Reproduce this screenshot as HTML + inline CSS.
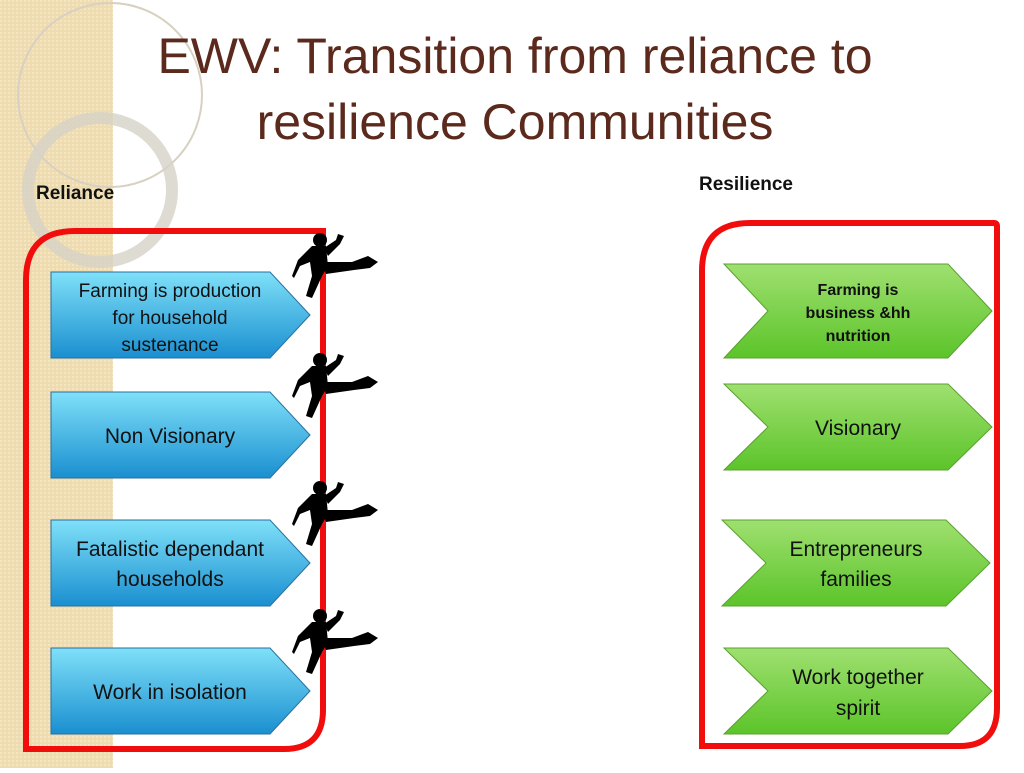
<!DOCTYPE html>
<html><head><meta charset="utf-8"><style>
body{margin:0;width:1024px;height:768px;overflow:hidden;background:#fff;font-family:"Liberation Sans",sans-serif}
</style></head><body>
<svg width="1024" height="768" viewBox="0 0 1024 768" xmlns="http://www.w3.org/2000/svg">
<defs>
<linearGradient id="bl" x1="0" y1="0" x2="0" y2="1"><stop offset="0" stop-color="#7fe0f8"/><stop offset="1" stop-color="#1a8fd0"/></linearGradient>
<linearGradient id="gr" x1="0" y1="0" x2="0" y2="1"><stop offset="0" stop-color="#9fe070"/><stop offset="1" stop-color="#5cc42a"/></linearGradient>
<pattern id="pt" width="4" height="4" patternUnits="userSpaceOnUse"><rect width="4" height="4" fill="#eedcb0"/><rect width="2" height="2" fill="#f3e6c4"/></pattern>
<g id="man" fill="#000">
<circle cx="28" cy="8" r="7"/>
<path d="M20 14 L34 14 L36 34 L30 44 L20 66 L14 64 L20 44 L18 30 L8 34 L2 46 L0 44 L6 28 Z"/>
<path d="M32 16 L44 8 L46 2 L52 4 L48 12 L36 24 Z"/>
<path d="M30 30 L60 30 L76 24 L86 30 L78 36 L62 38 L34 42 Z"/>
</g>
</defs>
<rect x="0" y="0" width="113" height="768" fill="url(#pt)"/>
<circle cx="110" cy="95" r="92" fill="none" stroke="#d8d0c0" stroke-width="2"/>
<circle cx="100" cy="190" r="72" fill="none" stroke="#d6d2c8" stroke-width="12" opacity="0.8"/>
<text x="515" y="73" text-anchor="middle" font-family="Liberation Sans,sans-serif" font-size="50" fill="#5b2a1c">EWV: Transition from reliance to</text>
<text x="515" y="139" text-anchor="middle" font-family="Liberation Sans,sans-serif" font-size="50" fill="#5b2a1c">resilience Communities</text>
<text x="36" y="199" font-size="19" font-weight="bold" fill="#111">Reliance</text>
<text x="699" y="190" font-size="19" font-weight="bold" fill="#111">Resilience</text>
<path d="M75 231 L323 231 L323 710 Q323 749 284 749 L26 749 L26 280 Q26 231 75 231 Z" fill="none" stroke="#f20d0d" stroke-width="6"/>
<path d="M750 223 L994 223 Q997 223 997 226 L997 708 Q997 746 960 746 L702 746 L702 271 Q702 223 750 223 Z" fill="none" stroke="#f20d0d" stroke-width="6"/>
<g stroke="#2a6fa0" stroke-width="1" fill="url(#bl)">
<polygon points="51,272 270,272 310,315 270,358 51,358"/>
<polygon points="51,392 270,392 310,435 270,478 51,478"/>
<polygon points="51,520 270,520 310,563 270,606 51,606"/>
<polygon points="51,648 270,648 310,691 270,734 51,734"/>
</g>
<g font-size="19" fill="#111" text-anchor="middle">
<text x="170" y="297">Farming is production</text>
<text x="170" y="324">for household</text>
<text x="170" y="351">sustenance</text>
<text x="170" y="443" font-size="21">Non Visionary</text>
<text x="170" y="556" font-size="21">Fatalistic dependant</text>
<text x="170" y="586" font-size="21">households</text>
<text x="170" y="699" font-size="21">Work in isolation</text>
</g>
<g stroke="#5aa030" stroke-width="1" fill="url(#gr)">
<polygon points="724,264 948,264 992,311 948,358 724,358 768,311"/>
<polygon points="724,384 948,384 992,427 948,470 724,470 768,427"/>
<polygon points="722,520 946,520 990,563 946,606 722,606 766,563"/>
<polygon points="724,648 948,648 992,691 948,734 724,734 768,691"/>
</g>
<g fill="#111" text-anchor="middle">
<text x="858" y="295" font-size="16" font-weight="bold">Farming is</text>
<text x="858" y="318" font-size="16" font-weight="bold">business  &amp;hh</text>
<text x="858" y="341" font-size="16" font-weight="bold">nutrition</text>
<text x="858" y="435" font-size="21">Visionary</text>
<text x="856" y="556" font-size="21">Entrepreneurs</text>
<text x="856" y="586" font-size="21">families</text>
<text x="858" y="684" font-size="21">Work together</text>
<text x="858" y="715" font-size="21">spirit</text>
</g>
<use href="#man" x="292" y="232"/>
<use href="#man" x="292" y="352"/>
<use href="#man" x="292" y="480"/>
<use href="#man" x="292" y="608"/>
</svg>
</body></html>
